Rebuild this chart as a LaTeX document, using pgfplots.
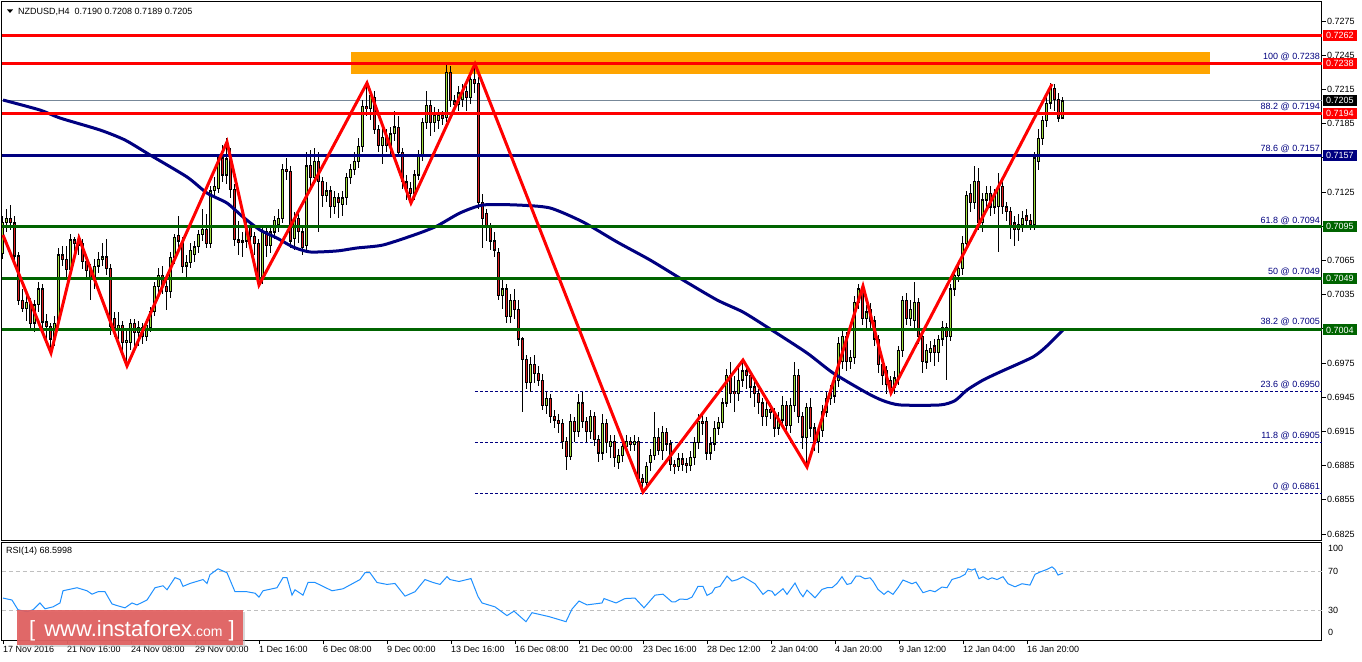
\documentclass[border=0pt]{standalone}
\usepackage{fontspec}
\setmainfont{Liberation Sans}
\usepackage{pgfplots}
\usepackage{pgfplotstable}
\pgfplotsset{compat=1.18}
\pgfplotsset{/pgf/number format/assume math mode=true}
\definecolor{mtred}{RGB}{255,0,0}
\definecolor{mtnavy}{RGB}{0,0,128}
\definecolor{mtgreen}{RGB}{0,100,0}
\definecolor{mtorange}{RGB}{255,165,0}
\definecolor{bull}{RGB}{160,222,60}
\definecolor{bear}{RGB}{222,30,30}
\definecolor{rsiblue}{RGB}{30,144,255}
\definecolor{bidgray}{RGB}{119,136,153}
\definecolor{wmred}{RGB}{225,95,95}
\begin{document}
\pgfplotstableread{
o h l c
0.7071 0.7104 0.7066 0.7098
0.7098 0.7110 0.7090 0.7102
0.7102 0.7114 0.7092 0.7098
0.7098 0.7104 0.7064 0.7069
0.7069 0.7072 0.7026 0.7030
0.7030 0.7040 0.7020 0.7023
0.7023 0.7034 0.7012 0.7028
0.7028 0.7032 0.7004 0.7010
0.7010 0.7030 0.7002 0.7026
0.7026 0.7046 0.7020 0.7040
0.7040 0.7044 0.7006 0.7011
0.7011 0.7018 0.6996 0.7007
0.7007 0.7010 0.6985 0.6996
0.6996 0.7016 0.6990 0.7010
0.7012 0.7076 0.7010 0.7070
0.7070 0.7078 0.7060 0.7066
0.7066 0.7078 0.7050 0.7057
0.7057 0.7088 0.7052 0.7083
0.7083 0.7086 0.7072 0.7080
0.7078 0.7088 0.7070 0.7082
0.7080 0.7084 0.7058 0.7064
0.7064 0.7070 0.7050 0.7056
0.7058 0.7062 0.7030 0.7048
0.7048 0.7066 0.7040 0.7060
0.7060 0.7072 0.7054 0.7066
0.7066 0.7080 0.7060 0.7068
0.7068 0.7084 0.7052 0.7058
0.7058 0.7062 0.7000 0.7007
0.7014 0.7020 0.6998 0.7006
0.7006 0.7020 0.6996 0.7008
0.7008 0.7012 0.6986 0.6993
0.6993 0.7004 0.6972 0.6995
0.6993 0.7014 0.6986 0.7010
0.7010 0.7014 0.6990 0.7002
0.7002 0.7012 0.6990 0.7006
0.7006 0.7010 0.6992 0.6998
0.6998 0.7012 0.6994 0.7008
0.7006 0.7024 0.7002 0.7020
0.7020 0.7046 0.7016 0.7042
0.7042 0.7058 0.7036 0.7052
0.7052 0.7060 0.7036 0.7042
0.7042 0.7048 0.7022 0.7038
0.7038 0.7072 0.7032 0.7068
0.7068 0.7088 0.7062 0.7085
0.7087 0.7104 0.7076 0.7082
0.7082 0.7086 0.7054 0.7060
0.7060 0.7070 0.7050 0.7063
0.7063 0.7080 0.7058 0.7074
0.7070 0.7082 0.7064 0.7077
0.7077 0.7092 0.7072 0.7088
0.7088 0.7110 0.7082 0.7092
0.7092 0.7106 0.7076 0.7080
0.7080 0.7130 0.7076 0.7126
0.7126 0.7138 0.7120 0.7130
0.7128 0.7158 0.7124 0.7155
0.7155 0.7166 0.7134 0.7140
0.7140 0.7172 0.7132 0.7154
0.7155 0.7164 0.7120 0.7127
0.7127 0.7132 0.7078 0.7083
0.7083 0.7100 0.7070 0.7081
0.7081 0.7090 0.7068 0.7082
0.7082 0.7100 0.7076 0.7094
0.7094 0.7098 0.7078 0.7086
0.7086 0.7090 0.7070 0.7080
0.7080 0.7084 0.7044 0.7050
0.7050 0.7094 0.7044 0.7090
0.7090 0.7094 0.7068 0.7078
0.7078 0.7096 0.7072 0.7090
0.7090 0.7104 0.7084 0.7100
0.7096 0.7110 0.7090 0.7102
0.7102 0.7150 0.7098 0.7145
0.7145 0.7155 0.7136 0.7143
0.7143 0.7148 0.7076 0.7082
0.7084 0.7108 0.7074 0.7102
0.7102 0.7106 0.7080 0.7090
0.7090 0.7094 0.7070 0.7076
0.7078 0.7160 0.7072 0.7148
0.7148 0.7162 0.7128 0.7138
0.7138 0.7164 0.7132 0.7152
0.7152 0.7160 0.7090 0.7134
0.7134 0.7138 0.7112 0.7122
0.7122 0.7134 0.7116 0.7126
0.7126 0.7130 0.7102 0.7112
0.7112 0.7126 0.7106 0.7120
0.7120 0.7124 0.7102 0.7116
0.7114 0.7126 0.7104 0.7120
0.7120 0.7142 0.7114 0.7138
0.7138 0.7150 0.7132 0.7145
0.7145 0.7160 0.7140 0.7152
0.7152 0.7172 0.7146 0.7165
0.7165 0.7206 0.7160 0.7200
0.7200 0.7222 0.7192 0.7198
0.7198 0.7214 0.7188 0.7210
0.7208 0.7214 0.7176 0.7180
0.7180 0.7184 0.7160 0.7166
0.7166 0.7186 0.7150 0.7173
0.7173 0.7180 0.7160 0.7166
0.7166 0.7182 0.7158 0.7176
0.7176 0.7196 0.7170 0.7182
0.7182 0.7192 0.7156 0.7160
0.7160 0.7164 0.7128 0.7134
0.7134 0.7140 0.7118 0.7128
0.7128 0.7134 0.7115 0.7124
0.7124 0.7144 0.7118 0.7140
0.7140 0.7162 0.7136 0.7158
0.7158 0.7190 0.7152 0.7186
0.7186 0.7214 0.7180 0.7201
0.7201 0.7206 0.7174 0.7186
0.7186 0.7200 0.7178 0.7192
0.7188 0.7198 0.7180 0.7192
0.7192 0.7196 0.7184 0.7190
0.7190 0.7236 0.7186 0.7230
0.7230 0.7236 0.7200 0.7205
0.7205 0.7210 0.7196 0.7202
0.7202 0.7218 0.7196 0.7212
0.7206 0.7220 0.7200 0.7213
0.7213 0.7218 0.7196 0.7208
0.7208 0.7230 0.7202 0.7224
0.7224 0.7238 0.7212 0.7220
0.7220 0.7226 0.7110 0.7116
0.7116 0.7123 0.7076 0.7102
0.7106 0.7110 0.7082 0.7094
0.7094 0.7098 0.7074 0.7082
0.7082 0.7090 0.7068 0.7074
0.7072 0.7076 0.7030 0.7034
0.7034 0.7050 0.7022 0.7040
0.7040 0.7044 0.7010 0.7016
0.7016 0.7036 0.7010 0.7030
0.7030 0.7040 0.7014 0.7022
0.7022 0.7030 0.6990 0.6996
0.6996 0.6998 0.6932 0.6978
0.6978 0.6982 0.6952 0.6958
0.6958 0.6980 0.6950 0.6974
0.6974 0.6982 0.6958 0.6966
0.6966 0.6972 0.6955 0.6960
0.6960 0.6965 0.6934 0.6938
0.6938 0.6950 0.6930 0.6944
0.6944 0.6948 0.6922 0.6928
0.6928 0.6934 0.6918 0.6925
0.6925 0.6930 0.6914 0.6922
0.6922 0.6926 0.6900 0.6906
0.6906 0.6910 0.6881 0.6893
0.6893 0.6930 0.6890 0.6924
0.6924 0.6928 0.6906 0.6915
0.6915 0.6948 0.6910 0.6940
0.6940 0.6950 0.6918 0.6924
0.6924 0.6928 0.6906 0.6915
0.6915 0.6934 0.6908 0.6928
0.6928 0.6932 0.6902 0.6908
0.6908 0.6912 0.6888 0.6896
0.6896 0.6930 0.6890 0.6922
0.6922 0.6926 0.6896 0.6905
0.6902 0.6912 0.6892 0.6906
0.6906 0.6912 0.6884 0.6892
0.6888 0.6900 0.6882 0.6894
0.6894 0.6908 0.6888 0.6902
0.6902 0.6912 0.6896 0.6906
0.6906 0.6910 0.6898 0.6904
0.6904 0.6912 0.6898 0.6906
0.6906 0.6910 0.6870 0.6874
0.6874 0.6878 0.6862 0.6870
0.6870 0.6888 0.6864 0.6884
0.6888 0.6900 0.6880 0.6894
0.6894 0.6932 0.6890 0.6910
0.6910 0.6918 0.6894 0.6898
0.6898 0.6920 0.6890 0.6914
0.6914 0.6918 0.6898 0.6904
0.6904 0.6908 0.6880 0.6886
0.6886 0.6890 0.6878 0.6884
0.6884 0.6896 0.6880 0.6891
0.6891 0.6896 0.6880 0.6886
0.6887 0.6892 0.6879 0.6885
0.6885 0.6898 0.6880 0.6892
0.6892 0.6910 0.6886 0.6905
0.6905 0.6930 0.6900 0.6924
0.6924 0.6932 0.6912 0.6922
0.6924 0.6928 0.6890 0.6896
0.6896 0.6910 0.6890 0.6904
0.6904 0.6924 0.6898 0.6918
0.6918 0.6928 0.6912 0.6923
0.6923 0.6944 0.6918 0.6940
0.6940 0.6970 0.6936 0.6964
0.6964 0.6976 0.6940 0.6948
0.6950 0.6964 0.6932 0.6948
0.6948 0.6972 0.6942 0.6960
0.6960 0.6976 0.6954 0.6968
0.6968 0.6972 0.6952 0.6964
0.6964 0.6968 0.6944 0.6954
0.6954 0.6960 0.6936 0.6948
0.6948 0.6952 0.6930 0.6940
0.6940 0.6944 0.6920 0.6928
0.6928 0.6942 0.6920 0.6934
0.6934 0.6940 0.6926 0.6932
0.6932 0.6936 0.6910 0.6918
0.6918 0.6932 0.6912 0.6925
0.6925 0.6946 0.6920 0.6938
0.6938 0.6942 0.6912 0.6920
0.6920 0.6944 0.6914 0.6938
0.6938 0.6976 0.6932 0.6964
0.6964 0.6970 0.6922 0.6928
0.6928 0.6932 0.6900 0.6910
0.6910 0.6940 0.6884 0.6936
0.6936 0.6944 0.6910 0.6918
0.6918 0.6922 0.6898 0.6906
0.6906 0.6920 0.6896 0.6916
0.6916 0.6938 0.6910 0.6932
0.6932 0.6950 0.6928 0.6944
0.6944 0.6956 0.6938 0.6950
0.6946 0.6966 0.6940 0.6960
0.6960 0.6998 0.6954 0.6992
0.6976 0.7004 0.6970 0.6998
0.6998 0.7002 0.6968 0.6976
0.6976 0.6986 0.6970 0.6980
0.6980 0.7034 0.6974 0.7028
0.7028 0.7044 0.7022 0.7040
0.7040 0.7042 0.7008 0.7014
0.7014 0.7026 0.7006 0.7020
0.7022 0.7028 0.7004 0.7012
0.7012 0.7016 0.6990 0.6996
0.6996 0.7000 0.6966 0.6974
0.6974 0.6978 0.6956 0.6964
0.6968 0.6972 0.6948 0.6956
0.6960 0.6964 0.6946 0.6954
0.6954 0.6968 0.6948 0.6962
0.6962 0.6990 0.6956 0.6986
0.6986 0.7034 0.6980 0.7030
0.7030 0.7036 0.7008 0.7014
0.7014 0.7030 0.7008 0.7022
0.7012 0.7046 0.7006 0.7028
0.7028 0.7032 0.6992 0.6998
0.6998 0.7002 0.6966 0.6976
0.6976 0.6992 0.6970 0.6986
0.6984 0.6994 0.6976 0.6988
0.6990 0.6996 0.6972 0.6984
0.6984 0.7000 0.6976 0.6996
0.6996 0.7012 0.6990 0.7006
0.7006 0.7010 0.6960 0.6998
0.6998 0.7044 0.6994 0.7040
0.7040 0.7058 0.7034 0.7052
0.7052 0.7064 0.7046 0.7058
0.7058 0.7086 0.7052 0.7080
0.7080 0.7126 0.7074 0.7122
0.7124 0.7132 0.7108 0.7116
0.7116 0.7148 0.7110 0.7134
0.7134 0.7146 0.7092 0.7098
0.7098 0.7124 0.7090 0.7118
0.7118 0.7130 0.7110 0.7124
0.7124 0.7130 0.7104 0.7112
0.7112 0.7128 0.7106 0.7122
0.7112 0.7142 0.7072 0.7130
0.7130 0.7136 0.7106 0.7112
0.7112 0.7116 0.7100 0.7108
0.7108 0.7112 0.7084 0.7094
0.7098 0.7104 0.7078 0.7092
0.7092 0.7106 0.7082 0.7096
0.7096 0.7108 0.7090 0.7102
0.7104 0.7110 0.7094 0.7100
0.7100 0.7106 0.7092 0.7096
0.7096 0.7160 0.7092 0.7155
0.7152 0.7180 0.7144 0.7172
0.7172 0.7192 0.7166 0.7188
0.7188 0.7208 0.7182 0.7203
0.7203 0.7221 0.7198 0.7216
0.7216 0.7220 0.7196 0.7206
0.7206 0.7212 0.7186 0.7190
0.7190 0.7208 0.7189 0.7205
}\candles
\pgfplotstableread{
x y
0 0.72057
9.25 0.71969
14.25 0.71899
24.25 0.71794
30.5 0.71706
36.75 0.71575
46 0.71382
51 0.71241
56 0.71153
60 0.71031
64.25 0.70917
68.5 0.70846
72.5 0.70768
76.75 0.70724
83.5 0.70733
88.5 0.70759
95 0.70785
103.5 0.70882
108.5 0.70952
114.25 0.71066
120 0.71136
128.5 0.71136
136.75 0.71110
145 0.70987
153.5 0.70812
161.75 0.70654
170 0.70478
178.5 0.70303
185 0.70197
191.75 0.70049
201 0.69838
207.5 0.69663
216 0.69487
220 0.69420
224.25 0.69382
234.25 0.69382
238 0.69420
241 0.69513
245 0.69600
249.25 0.69671
257.5 0.69803
261 0.69900
265 0.70040
}\madata
\pgfplotstableread{
x y
0 0.70873
12 0.69838
19 0.70846
31 0.69724
56 0.71689
64 0.70434
91 0.72206
102 0.71154
118 0.72373
160 0.68618
185 0.69776
201 0.68838
215 0.70425
222 0.69487
262.25 0.72197
}\zigzag
\pgfplotstableread{
x y
0 43
2.25 41
3.75 31
6 29
7.5 31
9.25 38
10.5 32
12.5 34
14.25 38
15 50.5
18.5 53.6
21 50.5
22.25 47
23.75 49.5
25.5 49.5
27.25 37
28.75 35
30.5 33
32.25 38
33.5 36
36 41
38 53.6
40 55.6
41 51.5
43 64
44.25 62
45 55
46.75 58
50 62
51 58
51.75 67
53.75 73
56 69
58 49.5
61 49.5
63 48
64 44
65 50.5
68.5 53.6
70 64
71 64
72.25 46
73 51.5
75 46
76.25 59
78 59
80 55
82.25 50.5
85 52.5
89.25 62
90.5 69
91.75 69
93.5 59
96 57
98 58
100.5 45
103 49.5
105.5 62
107.5 59
109.25 57
111 65
111.75 62
114 60
117 63
118.75 44.6
119.75 38
123 34
126 25
127.75 29.6
130.75 18.8
132.25 28
136.5 24
140.75 18.8
142.25 31.7
144 40
146 36
149.75 38
150.25 42.5
153.25 38
155.5 42.5
158 43
160.25 33
163 46
165 47
167.25 39
168 39
169.25 42
171 41.6
172.25 44
173.75 55
175 55
176 45.7
177.25 48.5
178 53.6
179.25 55
181 65.5
182.25 60.4
183.5 61.8
185 64.9
186.25 62
188 57.7
190 46.8
191.25 50.9
192.25 50
193 45.7
195 52.6
196 46.8
198 58.4
199.25 48.5
200 44.4
201 51.2
203 43.3
204.75 51.9
206 53.6
207.25 53.6
208.5 58
209.75 64.9
211 57
212 58
213.25 65.5
214.25 65.5
215.5 62.8
216.75 63.8
217.5 60.4
218.75 51.9
220.25 46.8
221.25 50.2
222.5 46.8
223.75 53.6
225 61.5
227.25 57.7
228.25 59.4
230 48.5
231.75 50.9
233 49.5
234.75 54.3
236 53.6
237.25 62.1
239.25 64.5
240.5 67.3
241.25 73
242.25 71.7
243 73
244 62.8
245 64.9
246.25 62
247.25 63.8
248.5 62
250 64.9
251.25 57.7
253 54.6
254.75 57.7
256.75 56.3
258 67.3
259.25 69.7
261 72.4
262.25 75
263 72.4
263.75 66.6
265 68.6
}\rsidata
\begin{tikzpicture}[font=\fontsize{9}{10}\selectfont]
\path[use as bounding box, fill=white] (0,0) rectangle (1362pt,-661pt);
\begin{axis}[
  at={(2pt,-2pt)}, anchor=north west,
  scale only axis, width=1320pt, height=538pt,
  xmin=-0.25, xmax=329.75,
  ymin=0.681974, ymax=0.729167,
  axis line style={line width=1pt, black},
  xtick=\empty,
  ytick={0.6825,0.6855,0.6885,0.6915,0.6945,0.6975,0.7005,0.7035,0.7065,0.7095,0.7125,0.7155,0.7185,0.7215,0.7245,0.7275},
  ytick pos=right, yticklabel pos=right,
  tick align=outside, major tick length=4pt,
  tick style={black, line width=0.8pt},
  scaled y ticks=false,
  yticklabel style={/pgf/number format/fixed, /pgf/number format/fixed zerofill, /pgf/number format/precision=4, inner sep=1pt, font=\fontsize{9}{10}\selectfont},
]
\fill[mtorange] (axis cs:87,0.72285) rectangle (axis cs:301.75,0.72478);
% fibonacci dashed levels
\foreach \lv in {0.7238,0.7194,0.7157,0.7094,0.7049,0.7005,0.6950,0.6905,0.6861}{
  \edef\tmp{\noexpand\addplot[mtnavy, line width=0.8pt, dash pattern=on 3pt off 2pt, forget plot] coordinates {(118,\lv) (329.75,\lv)};}\tmp
}
\addplot[bidgray, line width=0.8pt] coordinates {(-0.25,0.7205) (329.75,0.7205)};
% wicks
\addplot[draw=none, mark=none, error bars/.cd, y dir=both, y explicit, error mark=none,
  error bar style={draw=black, line width=1pt, solid}]
  table[x expr=\coordindex, y expr={(\thisrow{h}+\thisrow{l})/2}, y error expr={(\thisrow{h}-\thisrow{l})/2}] {\candles};
% bodies outline
\addplot[draw=none, mark=none, error bars/.cd, y dir=both, y explicit, error mark=none,
  error bar style={draw=black, line width=3pt, solid}]
  table[x expr=\coordindex, y expr={(\thisrow{o}+\thisrow{c})/2}, y error expr={abs(\thisrow{c}-\thisrow{o})/2+0.00005}] {\candles};
% bull fill
\addplot[draw=none, mark=none, restrict expr to domain={\thisrow{c}-\thisrow{o}}{0:1},
  error bars/.cd, y dir=both, y explicit, error mark=none,
  error bar style={draw=bull, line width=1pt, solid}]
  table[x expr=\coordindex, y expr={(\thisrow{o}+\thisrow{c})/2}, y error expr={max(abs(\thisrow{c}-\thisrow{o})/2-0.00006,0)}] {\candles};
% bear fill
\addplot[draw=none, mark=none, restrict expr to domain={\thisrow{c}-\thisrow{o}}{-1:-0.00001},
  error bars/.cd, y dir=both, y explicit, error mark=none,
  error bar style={draw=bear, line width=1pt, solid}]
  table[x expr=\coordindex, y expr={(\thisrow{o}+\thisrow{c})/2}, y error expr={max(abs(\thisrow{c}-\thisrow{o})/2-0.00006,0)}] {\candles};
% moving average
\addplot[mtnavy, line width=3pt, smooth, tension=0.4] table[x=x, y=y] {\madata};
% horizontal levels
\addplot[mtred, line width=3pt] coordinates {(-0.25,0.7262) (329.75,0.7262)};
\addplot[mtred, line width=3pt] coordinates {(-0.25,0.7238) (329.75,0.7238)};
\addplot[mtred, line width=3pt] coordinates {(-0.25,0.7194) (329.75,0.7194)};
\addplot[mtnavy, line width=3pt] coordinates {(-0.25,0.7157) (329.75,0.7157)};
\addplot[mtgreen, line width=3pt] coordinates {(-0.25,0.7095) (329.75,0.7095)};
\addplot[mtgreen, line width=3pt] coordinates {(-0.25,0.7049) (329.75,0.7049)};
\addplot[mtgreen, line width=3pt] coordinates {(-0.25,0.7004) (329.75,0.7004)};
% zigzag
\addplot[mtred, line width=3pt, line join=miter] table[x=x, y=y] {\zigzag};
% fib labels
\foreach \lab/\lv in {100 @ 0.7238/0.7238, 88.2 @ 0.7194/0.7194, 78.6 @ 0.7157/0.7157, 61.8 @ 0.7094/0.7094, 50 @ 0.7049/0.7049, 38.2 @ 0.7005/0.7005, 23.6 @ 0.6950/0.6950, 11.8 @ 0.6905/0.6905, 0 @ 0.6861/0.6861}{
  \edef\tmp{\noexpand\node[anchor=south east, text=mtnavy, inner sep=1pt, yshift=1.5pt, xshift=-1pt] at (axis cs:329.75,\lv) {\lab};}\tmp
}
\coordinate (b1) at (axis cs:329.75,0.7262);
\coordinate (b2) at (axis cs:329.75,0.7238);
\coordinate (b3) at (axis cs:329.75,0.7205);
\coordinate (b4) at (axis cs:329.75,0.7194);
\coordinate (b5) at (axis cs:329.75,0.7157);
\coordinate (b6) at (axis cs:329.75,0.7095);
\coordinate (b7) at (axis cs:329.75,0.7049);
\coordinate (b8) at (axis cs:329.75,0.7004);
\end{axis}
% price boxes
\tikzset{pbox/.style={anchor=west, text=white, inner xsep=3pt, inner ysep=1pt, minimum height=11pt, xshift=1pt}}
\node[pbox, fill=mtred] at (b1) {0.7262};
\node[pbox, fill=mtred] at (b2) {0.7238};
\node[pbox, fill=black] at (b3) {0.7205};
\node[pbox, fill=mtred] at (b4) {0.7194};
\node[pbox, fill=mtnavy] at (b5) {0.7157};
\node[pbox, fill=mtgreen] at (b6) {0.7095};
\node[pbox, fill=mtgreen] at (b7) {0.7049};
\node[pbox, fill=mtgreen] at (b8) {0.7004};
% title
\fill[black] (7pt,-9.5pt) -- (13pt,-9.5pt) -- (10pt,-13pt) -- cycle;
\node[anchor=west, inner sep=0pt] at (18pt,-11.5pt) {NZDUSD,H4\ \ 0.7190 0.7208 0.7189 0.7205};
% RSI panel
\begin{axis}[
  at={(2pt,-542pt)}, anchor=north west,
  scale only axis, width=1320pt, height=98pt,
  xmin=-0.25, xmax=329.75, ymin=0, ymax=100.5,
  axis line style={line width=1pt, black},
  ytick=\empty,
  xtick={0,16,...,256},
  xticklabels={17 Nov 2016,21 Nov 16:00,24 Nov 08:00,29 Nov 00:00,1 Dec 16:00,6 Dec 08:00,9 Dec 00:00,13 Dec 16:00,16 Dec 08:00,21 Dec 00:00,23 Dec 16:00,28 Dec 12:00,2 Jan 04:00,4 Jan 20:00,9 Jan 12:00,12 Jan 04:00,16 Jan 20:00},
  xtick pos=bottom, tick align=outside, major tick length=4pt,
  tick style={black, line width=0.8pt},
  xticklabel style={anchor=north west, xshift=-1pt, yshift=-1pt, inner sep=1pt, font=\fontsize{9}{10}\selectfont},
]
\addplot[black!25, line width=0.8pt, dash pattern=on 4pt off 3pt] coordinates {(-0.25,70) (329.75,70)};
\addplot[black!25, line width=0.8pt, dash pattern=on 4pt off 3pt] coordinates {(-0.25,30) (329.75,30)};
\addplot[rsiblue, line width=1pt] table[x=x, y=y] {\rsidata};
\coordinate (r100) at (axis cs:329.75,93.8);
\coordinate (r70) at (axis cs:329.75,70);
\coordinate (r30) at (axis cs:329.75,30);
\coordinate (r0) at (axis cs:329.75,7.7);
\end{axis}
\node[anchor=west, inner sep=0pt, xshift=6pt] at (r100) {100};
\node[anchor=west, inner sep=0pt, xshift=6pt] at (r70) {70};
\node[anchor=west, inner sep=0pt, xshift=6pt] at (r30) {30};
\node[anchor=west, inner sep=0pt, xshift=6pt] at (r0) {0};
\node[anchor=west, inner sep=0pt] at (6pt,-551pt) {RSI(14) 68.5998};
% watermark
\fill[black!30, opacity=0.5] (19pt,-612pt) rectangle (245pt,-647pt);
\fill[wmred, opacity=0.92] (17pt,-610pt) rectangle (243pt,-645pt);
\node[anchor=base west, text=white, inner sep=0pt] at (29pt,-636pt) {\fontsize{22}{22}\selectfont [\hspace{9pt}www.instaforex{\fontsize{14}{14}\selectfont .com}\hspace{6pt}]};
\end{tikzpicture}
\end{document}
